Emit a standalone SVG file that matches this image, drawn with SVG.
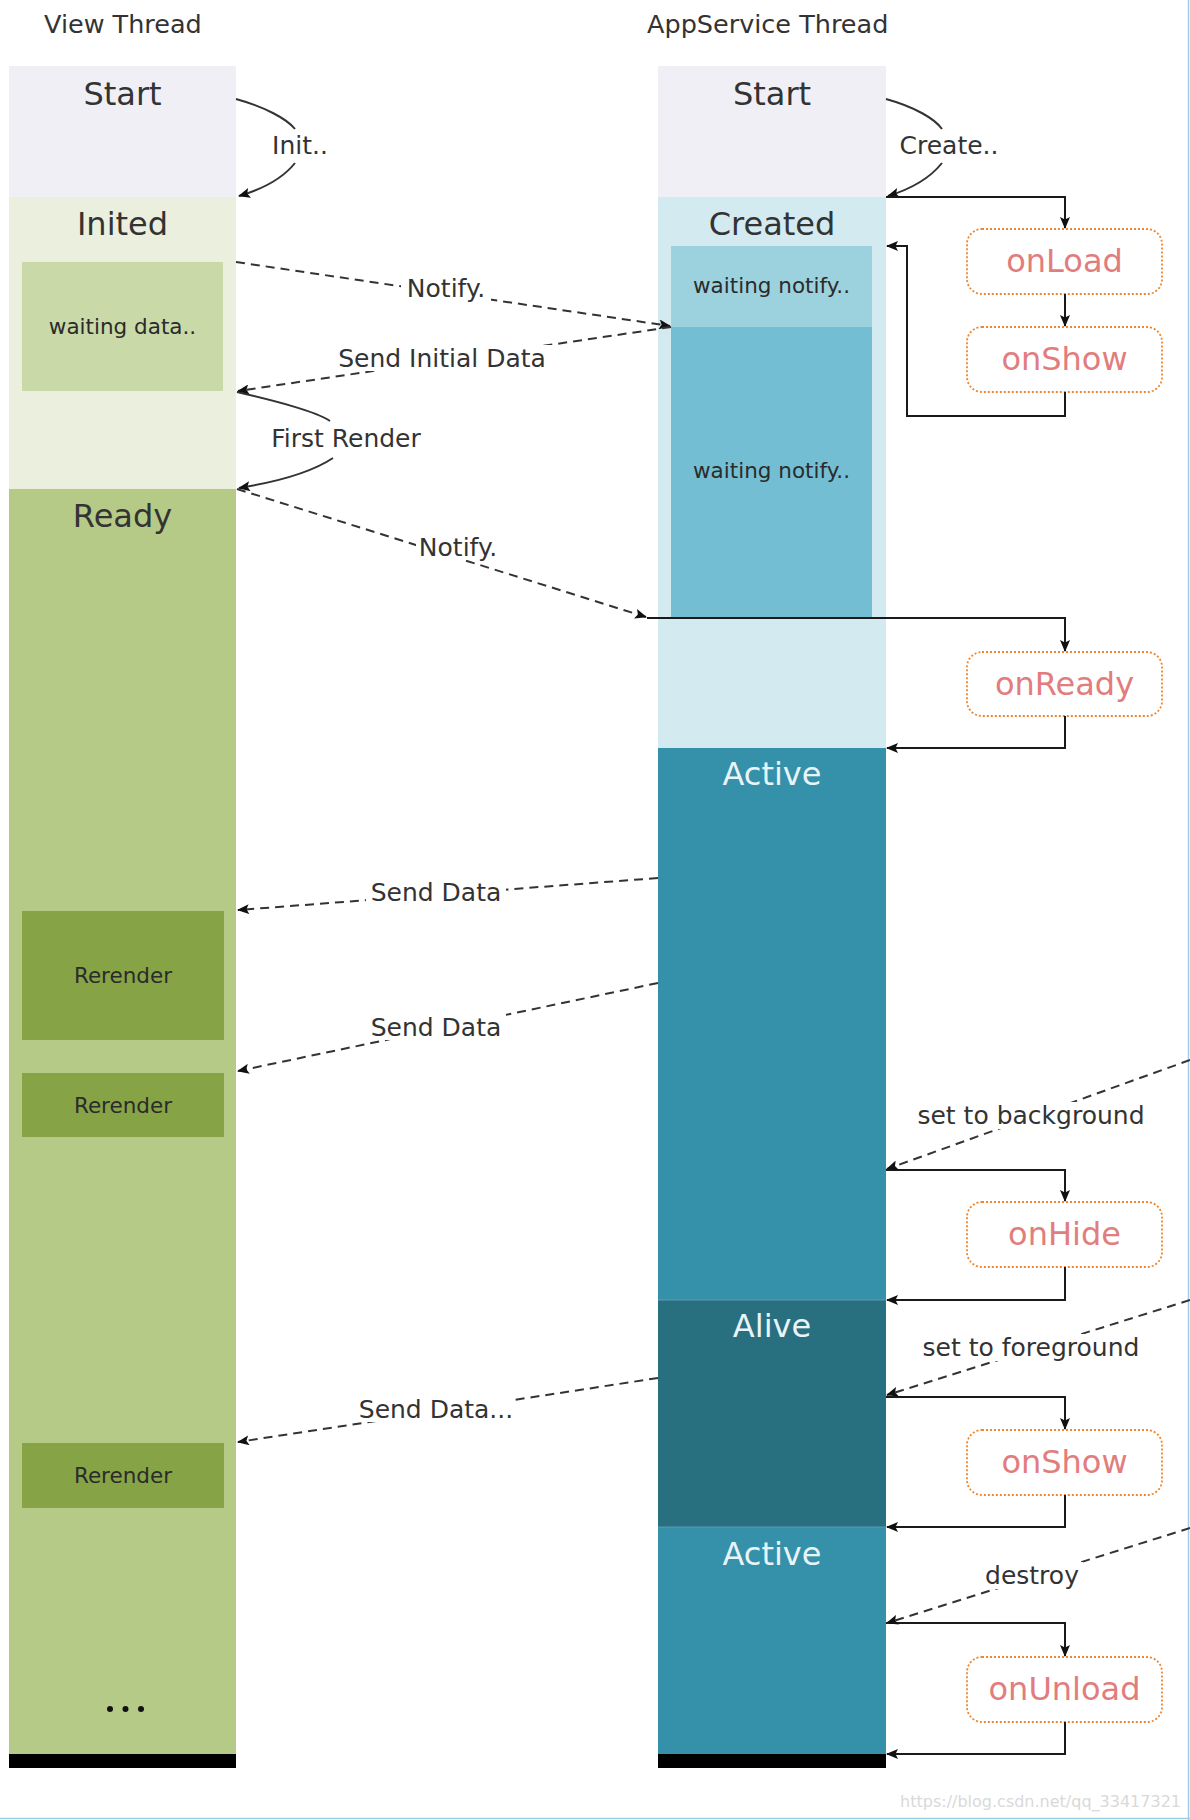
<svg xmlns="http://www.w3.org/2000/svg" width="1190" height="1820" viewBox="0 0 1190 1820">
<style>
text{font-family:"DejaVu Sans","Liberation Sans",sans-serif;}
.title{font-size:25.5px;fill:#333;}
.state{font-size:32px;fill:#333;text-anchor:middle;}
.statel{font-size:32px;fill:#e8f4f7;text-anchor:middle;}
.small{font-size:21.5px;fill:#2b2b2b;text-anchor:middle;}
.lbl{font-size:25px;fill:#333;text-anchor:middle;}
.hook rect{fill:#fff;stroke:#f0862e;stroke-width:1.8;stroke-dasharray:2 2;}
.hook text{font-size:32px;fill:#e27d7d;text-anchor:middle;}
.solid{fill:none;stroke:#1a1a1a;stroke-width:2;marker-end:url(#ah);}
.solid-n{fill:none;stroke:#1a1a1a;stroke-width:2;}
.dash{fill:none;stroke:#333;stroke-width:2;stroke-dasharray:9 6;marker-end:url(#ah);}
.curve{fill:none;stroke:#333;stroke-width:2;}
.curvea{fill:none;stroke:#333;stroke-width:2;marker-end:url(#ah);}
.bg{fill:#fff;}
</style>
<defs>
<marker id="ah" viewBox="0 0 12 10" refX="11" refY="5" markerWidth="12" markerHeight="10" markerUnits="userSpaceOnUse" orient="auto">
<path d="M0,0 L12,5 L0,10 L2.5,5 z" fill="#111"/>
</marker>
</defs>
<rect x="0" y="0" width="1190" height="1820" fill="#fff"/>
<line x1="1188.5" y1="0" x2="1188.5" y2="1820" stroke="#9ccfe6" stroke-width="1.5"/>
<line x1="0" y1="1818.5" x2="1190" y2="1818.5" stroke="#9ccfe6" stroke-width="1.5"/>

<text class="title" x="44" y="33">View Thread</text>
<text class="title" x="647" y="33">AppService Thread</text>

<!-- View Thread column -->
<g id="v-start"><rect x="9" y="66" width="227" height="131" fill="#f0eff5"/><text class="state" x="122.5" y="105">Start</text></g>
<g id="v-inited"><rect x="9" y="197" width="227" height="292" fill="#ebf0de"/><text class="state" x="122.5" y="235">Inited</text></g>
<g id="v-waiting"><rect x="22" y="262" width="201" height="129" fill="#c9d9a7"/><text class="small" x="122.5" y="334">waiting data..</text></g>
<g id="v-ready"><rect x="9" y="489" width="227" height="1265" fill="#b6ca87"/><text class="state" x="122.5" y="527">Ready</text></g>
<g id="v-rerender1"><rect x="22" y="911" width="202" height="129" fill="#86a446"/><text class="small" x="123" y="983">Rerender</text></g>
<g id="v-rerender2"><rect x="22" y="1073" width="202" height="64" fill="#86a446"/><text class="small" x="123" y="1113">Rerender</text></g>
<g id="v-rerender3"><rect x="22" y="1443" width="202" height="65" fill="#86a446"/><text class="small" x="123" y="1483">Rerender</text></g>
<g id="v-more" fill="#111"><circle cx="110" cy="1709" r="3"/><circle cx="125.5" cy="1709" r="3"/><circle cx="141" cy="1709" r="3"/></g>
<g id="v-end"><rect x="9" y="1754" width="227" height="14" fill="#000"/></g>

<!-- AppService Thread column -->
<g id="a-start"><rect x="658" y="66" width="228" height="131" fill="#f0eff5"/><text class="state" x="772" y="105">Start</text></g>
<g id="a-created"><rect x="658" y="197" width="228" height="551" fill="#d3ebf0"/><text class="state" x="772" y="235">Created</text></g>
<g id="a-waiting1"><rect x="671" y="246" width="201" height="81" fill="#9cd1de"/><text class="small" x="771.5" y="293">waiting notify..</text></g>
<g id="a-waiting2"><rect x="671" y="327" width="201" height="290" fill="#73bed3"/><text class="small" x="771.5" y="478">waiting notify..</text></g>
<g id="a-active1"><rect x="658" y="748" width="228" height="552" fill="#3590a9"/><text class="statel" x="772" y="785">Active</text></g>
<g id="a-alive"><rect x="658" y="1300" width="228" height="227" fill="#286f80"/><text class="statel" x="772" y="1337">Alive</text></g>
<g id="a-active2"><rect x="658" y="1527" width="228" height="227" fill="#3590a9"/><text class="statel" x="772" y="1565">Active</text></g>
<g id="a-end"><rect x="658" y="1754" width="228" height="14" fill="#000"/></g>
<line x1="658" y1="1300" x2="886" y2="1300" stroke="#5a9fb0" stroke-width="1"/>
<line x1="658" y1="1527" x2="886" y2="1527" stroke="#5a9fb0" stroke-width="1"/>

<!-- Lifecycle hooks -->
<g id="h-onload" class="hook"><rect x="967" y="229" width="195" height="65" rx="15"/><text x="1064.5" y="272">onLoad</text></g>
<g id="h-onshow1" class="hook"><rect x="967" y="327" width="195" height="65" rx="15"/><text x="1064.5" y="370">onShow</text></g>
<g id="h-onready" class="hook"><rect x="967" y="652" width="195" height="64" rx="15"/><text x="1064.5" y="695">onReady</text></g>
<g id="h-onhide" class="hook"><rect x="967" y="1202" width="195" height="65" rx="15"/><text x="1064.5" y="1245">onHide</text></g>
<g id="h-onshow2" class="hook"><rect x="967" y="1430" width="195" height="65" rx="15"/><text x="1064.5" y="1473">onShow</text></g>
<g id="h-onunload" class="hook"><rect x="967" y="1657" width="195" height="65" rx="15"/><text x="1064.5" y="1700">onUnload</text></g>

<!-- Connectors -->
<g id="connectors">
<path class="curve" d="M236,99 C265,107 287,119 295,129"/>
<path class="curvea" d="M295,163 C283,178 263,189 239,196"/>
<text class="lbl" x="300" y="154">Init..</text>

<path class="curve" d="M886,99 C915,107 935,119 942,129"/>
<path class="curvea" d="M942,163 C930,178 911,189 888,196"/>
<text class="lbl" x="949" y="154">Create..</text>

<path class="curve" d="M237,392 C275,401 315,411 330,421"/>
<path class="curvea" d="M333,458 C312,472 276,482 239,488"/>
<text class="lbl" x="346" y="447">First Render</text>

<path class="solid" d="M886,197 H1065 V228"/>
<path class="solid" d="M1065,294 V326"/>
<path class="solid" d="M1065,392 V416 H907 V246 H887"/>
<path class="solid" d="M647,618 H1065 V651"/>
<path class="solid" d="M1065,716 V748 H887"/>
<path class="solid" d="M886,1170 H1065 V1201"/>
<path class="solid" d="M1065,1267 V1300 H887"/>
<path class="solid" d="M886,1397 H1065 V1429"/>
<path class="solid" d="M1065,1495 V1527 H887"/>
<path class="solid" d="M886,1623 H1065 V1656"/>
<path class="solid" d="M1065,1722 V1754 H887"/>

<path class="dash" d="M236,262 L670,326"/>
<rect class="bg" x="401" y="275" width="90" height="26"/>
<text class="lbl" x="446" y="297">Notify.</text>

<path class="dash" d="M671,327 L238,391"/>
<rect class="bg" x="331" y="345" width="222" height="26"/>
<text class="lbl" x="442" y="367">Send Initial Data</text>

<path class="dash" d="M237,489 L646,617"/>
<rect class="bg" x="416" y="534" width="84" height="26"/>
<text class="lbl" x="458" y="556">Notify.</text>

<path class="dash" d="M658,878 L238,910"/>
<rect class="bg" x="366" y="879" width="140" height="26"/>
<text class="lbl" x="436" y="901">Send Data</text>

<path class="dash" d="M658,983 L238,1071"/>
<rect class="bg" x="366" y="1014" width="140" height="26"/>
<text class="lbl" x="436" y="1036">Send Data</text>

<path class="dash" d="M658,1378 L238,1442"/>
<rect class="bg" x="358" y="1396" width="156" height="26"/>
<text class="lbl" x="436" y="1418">Send Data...</text>

<path class="dash" d="M1190,1060 L887,1169"/>
<rect class="bg" x="910" y="1102" width="242" height="27"/>
<text class="lbl" x="1031" y="1124">set to background</text>

<path class="dash" d="M1190,1300 L887,1395"/>
<rect class="bg" x="913" y="1334" width="236" height="27"/>
<text class="lbl" x="1031" y="1356">set to foreground</text>

<path class="dash" d="M1190,1528 L887,1623"/>
<rect class="bg" x="981" y="1562" width="102" height="27"/>
<text class="lbl" x="1032" y="1584">destroy</text>
</g>

<text x="1181" y="1807" font-family="Liberation Sans, sans-serif" font-size="16" fill="#d9d9d9" text-anchor="end">https://blog.csdn.net/qq_33417321</text>
</svg>
